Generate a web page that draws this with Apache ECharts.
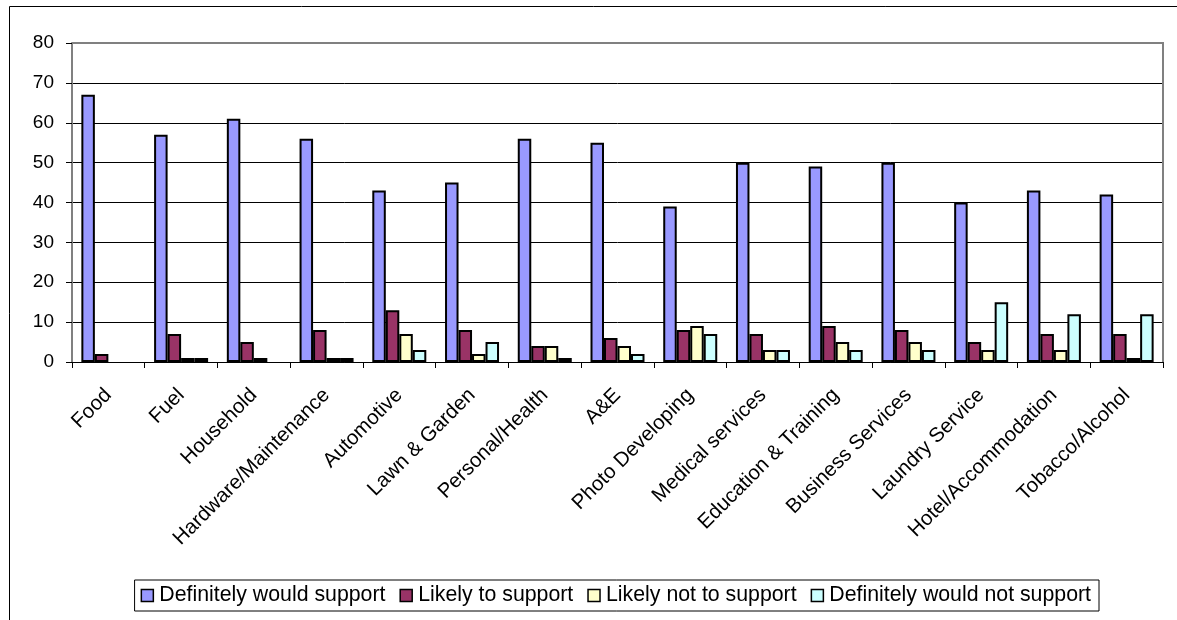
<!DOCTYPE html>
<html>
<head>
<meta charset="utf-8">
<script src="https://cdn.jsdelivr.net/npm/echarts@6/dist/echarts.min.js"></script>
<style>
  html, body { margin: 0; padding: 0; background: #fff; }
  #chart { width: 1177px; height: 620px; }
</style>
</head>
<body>
<div id="chart"></div>
<script>
// Categories of business and the share of respondents for each support level
const categories = [
  'Food', 'Fuel', 'Household', 'Hardware/Maintenance', 'Automotive',
  'Lawn & Garden', 'Personal/Health', 'A&E', 'Photo Developing',
  'Medical services', 'Education & Training', 'Business Services',
  'Laundry Service', 'Hotel/Accommodation', 'Tobacco/Alcohol'
];
const definitelySupport    = [67, 57, 61, 56, 43, 45, 56, 55, 39, 50, 49, 50, 40, 43, 42];
const likelySupport        = [2, 7, 5, 8, 13, 8, 4, 6, 8, 7, 9, 8, 5, 7, 7];
const likelyNotSupport     = [0, 1, 1, 1, 7, 2, 4, 4, 9, 3, 5, 5, 3, 3, 1];
const definitelyNotSupport = [0, 1, 0, 1, 3, 5, 1, 2, 7, 3, 3, 3, 15, 12, 12];
const seriesNames = [
  'Definitely would support', 'Likely to support',
  'Likely not to support', 'Definitely would not support'
];
const yTicks = [0, 10, 20, 30, 40, 50, 60, 70, 80];

const colors = ['#9999FF', '#993366', '#FFFFCC', '#CCFFFF'];
const FONT = 'Liberation Sans, Arial, sans-serif';

const chart = echarts.init(document.getElementById('chart'), null, { renderer: 'canvas' });

// zero-height bars get no outline so nothing shows on the axis
function barSeries(name, data, color) {
  return {
    name: name,
    type: 'bar',
    data: data.map(v => v === 0 ? { value: v, itemStyle: { borderWidth: 0 } } : v),
    barWidth: 13.5,
    barGap: '0%',
    itemStyle: { color: color, borderColor: '#000', borderWidth: 2 },
    emphasis: { disabled: true }
  };
}

chart.setOption({
  animation: false,
  backgroundColor: '#fff',
  color: colors,
  textStyle: { fontFamily: FONT },
  graphic: [
    // outer chart-area frame
    { type: 'rect', left: 7, top: 4, shape: { width: 1400, height: 800 },
      style: { fill: 'none', stroke: '#000', lineWidth: 1 }, silent: true, z: -1 },
    // plot-area frame (top and right edges)
    { type: 'polyline', shape: { points: [[72, 43], [1163, 43], [1163, 362]] },
      style: { stroke: '#808080', lineWidth: 2, fill: 'none' }, silent: true, z: 5 }
  ],
  grid: { left: 72, top: 43, right: 14, bottom: 258, containLabel: false },
  legend: {
    data: seriesNames,
    right: 78,
    top: 580,
    itemWidth: 12,
    itemHeight: 12,
    itemGap: 14,
    padding: [5, 8, 5, 6],
    borderColor: '#000',
    borderWidth: 1,
    icon: 'rect',
    itemStyle: { borderColor: '#000', borderWidth: 1.5 },
    textStyle: { fontFamily: FONT, fontSize: 21.3, color: '#000', padding: [0, 0, 0, 1] }
  },
  xAxis: {
    type: 'category',
    data: categories,
    axisLine: { lineStyle: { color: '#000', width: 1 } },
    axisTick: { show: true, length: 6, interval: 0, lineStyle: { color: '#000' } },
    axisLabel: {
      interval: 0,
      rotate: 45,
      fontFamily: FONT,
      fontSize: 20.5,
      color: '#000',
      margin: 30
    },
    splitLine: { show: false }
  },
  yAxis: {
    type: 'value',
    min: yTicks[0],
    max: yTicks[yTicks.length - 1],
    interval: 10,
    axisLine: { show: true, lineStyle: { color: '#808080', width: 2 } },
    axisTick: { show: true, length: 6, lineStyle: { color: '#000' } },
    axisLabel: { fontFamily: FONT, fontSize: 19, color: '#000', margin: 18 },
    splitLine: { show: true, lineStyle: { color: '#000', width: 1 } }
  },
  series: [
    barSeries(seriesNames[0], definitelySupport, colors[0]),
    barSeries(seriesNames[1], likelySupport, colors[1]),
    barSeries(seriesNames[2], likelyNotSupport, colors[2]),
    barSeries(seriesNames[3], definitelyNotSupport, colors[3])
  ]
});
</script>
</body>
</html>
